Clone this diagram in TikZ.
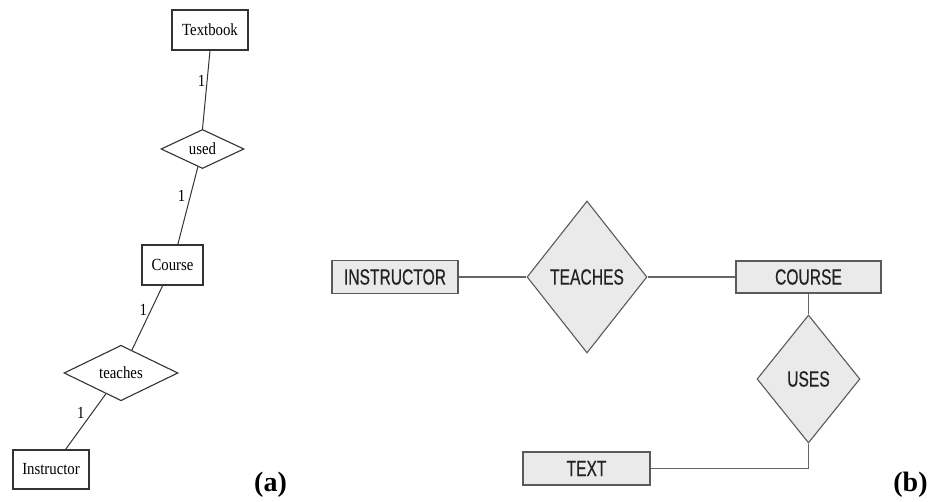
\documentclass[tikz,border=0pt]{standalone}
\usepackage{fontspec}
\setmainfont{Liberation Serif}
\newfontfamily\ernarrow[FakeStretch=0.71, FakeBold=0.4]{Liberation Sans}
\newfontfamily\erserif[FakeStretch=0.87]{Liberation Serif}
\usetikzlibrary{shapes.geometric}

\definecolor{linedark}{HTML}{333333}
\definecolor{linegray}{HTML}{666666}
\definecolor{boxgray}{HTML}{5A5A5A}
\definecolor{fillgray}{HTML}{EAEAEA}
\definecolor{textdark}{HTML}{222222}

\tikzset{
  % left-hand diagram: plain serif ER notation
  entA/.style={draw=linedark, line width=1.2pt, fill=white, rectangle,
    minimum width=#1, minimum height=40pt, inner sep=0pt,
    font=\erserif\fontsize{17}{19}\selectfont},
  relA/.style={draw=linedark, line width=1.1pt, fill=white, diamond,
    inner sep=0pt, font=\erserif\fontsize{17}{19}\selectfont},
  linkA/.style={draw=linedark, line width=1pt},
  card/.style={font=\erserif\fontsize{17}{19}\selectfont, inner sep=0pt},
  % right-hand diagram: shaded boxes with condensed sans labels
  entB/.style={draw=boxgray, line width=1.1pt, fill=fillgray, rectangle,
    minimum height=33pt, inner sep=0pt, text=textdark,
    font=\ernarrow\fontsize{22}{24}\selectfont},
  relB/.style={draw=boxgray, line width=1.1pt, fill=fillgray, diamond,
    inner sep=0pt, text=textdark,
    font=\ernarrow\fontsize{22}{24}\selectfont},
  linkB/.style={draw=linegray, line width=1.3pt},
  tag/.style={font=\bfseries\fontsize{28}{30}\selectfont, inner sep=0pt}
}

\begin{document}
\begin{tikzpicture}[x=1pt, y=-1pt]
\useasboundingbox (0,0) rectangle (938,502);

% ---- (a) ----
\node[entA=76pt] (tb) at (210,30) {Textbook};
\node[relA, minimum width=83pt, minimum height=39pt] (used) at (202.5,149) {used};
\node[entA=61pt] (course) at (172.5,265) {Course};
\node[relA, minimum width=114pt, minimum height=40pt] (teaches) at (121,373) {teaches};
\node[entA=76pt, minimum height=39pt] (instr) at (51,469.5) {Instructor};

\draw[linkA] (tb.south) -- node[card, pos=0.39, xshift=-5.5pt] (c1) {1} (used.north);
\draw[linkA] (used) -- node[card, pos=0.37, xshift=-9pt] (c2) {1} (course);
\draw[linkA] (course) -- node[card, pos=0.37, xshift=-8pt] (c3) {1} (teaches);
\draw[linkA] (teaches) -- node[card, pos=0.35, xshift=-11pt] (c4) {1} (instr);

\node[tag] (la) at (270.5,485) {(a)};

% ---- (b) ----
\node[entB, minimum width=126pt] (INSTR) at (395,277) {INSTRUCTOR};
\node[relB, minimum width=120pt, minimum height=152pt] (TEACH) at (587,277) {TEACHES};
\node[entB, minimum width=145pt, minimum height=32pt] (COURSE) at (808.5,277) {COURSE};
\node[relB, minimum width=103pt, minimum height=128pt] (USES) at (808.5,379) {USES};
\node[entB, minimum width=127pt] (TEXT) at (586.5,468.5) {TEXT};

\draw[linkB] (INSTR.east) -- (TEACH.west);
\draw[linkB] (TEACH.east) -- (COURSE.west);
\draw[linkB] (COURSE.south) -- (USES.north);
\draw[linkB] (USES.south) |- (TEXT.east);

\node[tag] (lb) at (910.5,485) {(b)};
\end{tikzpicture}
\end{document}
